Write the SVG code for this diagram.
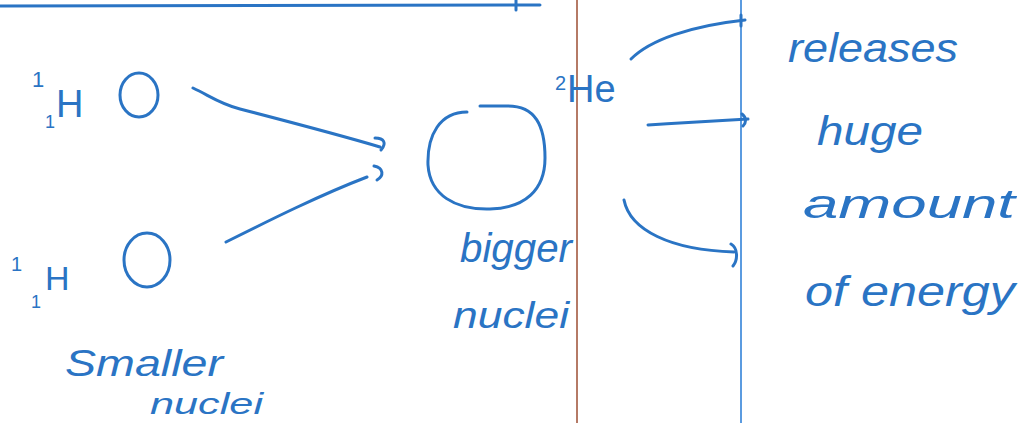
<svg xmlns="http://www.w3.org/2000/svg" width="1019" height="423" viewBox="0 0 1019 423">
<defs>
<style>
.ink{fill:none;stroke:#2a74c4;stroke-width:3;stroke-linecap:round;stroke-linejoin:round}
.txt{fill:#2a74c4;font-family:"Liberation Sans",Arial,sans-serif}
.hw{font-style:italic}
</style>
</defs>
<rect width="1019" height="423" fill="#ffffff"/>
<g id="margins">
<line x1="577" y1="0" x2="577" y2="423" stroke="#b57a66" stroke-width="2"/>
<line x1="741" y1="0" x2="741" y2="423" stroke="#5b9be0" stroke-width="2"/>
<path class="ink" d="M0 6 L540 5"/>
<path class="ink" d="M516 0 L516 10"/>
</g>
<g id="h1-top">
<ellipse class="ink" cx="139" cy="95" rx="19" ry="22"/>
<text class="txt" x="32" y="87" font-size="22">1</text>
<text class="txt" x="45" y="128" font-size="18">1</text>
<text class="txt" x="56" y="117" font-size="38">H</text>
</g>
<g id="h1-bottom">
<ellipse class="ink" cx="147" cy="260" rx="23" ry="27"/>
<text class="txt" x="11" y="271" font-size="20">1</text>
<text class="txt" x="31" y="308" font-size="18">1</text>
<text class="txt" x="45" y="290" font-size="34">H</text>
</g>
<g id="smaller-label">
<text class="txt hw" x="65" y="376" font-size="36" textLength="158" lengthAdjust="spacingAndGlyphs">Smaller</text>
<text class="txt hw" x="150" y="414" font-size="30" textLength="113" lengthAdjust="spacingAndGlyphs">nuclei</text>
</g>
<g id="he-nucleus">
<path class="ink" d="M467 112 C440 112 427 135 428 165 C430 195 455 210 490 209 C525 208 545 190 545 158 C545 125 535 106 508 106 L480 106"/>
<text class="txt" x="555" y="90" font-size="20">2</text>
<text class="txt" x="567" y="102" font-size="38">He</text>
</g>
<g id="bigger-label">
<text class="txt hw" x="460" y="262" font-size="40" textLength="112" lengthAdjust="spacingAndGlyphs">bigger</text>
<text class="txt hw" x="453" y="328" font-size="36" textLength="116" lengthAdjust="spacingAndGlyphs">nuclei</text>
</g>
<g id="energy-label">
<text class="txt hw" x="788" y="62" font-size="40" textLength="170" lengthAdjust="spacingAndGlyphs">releases</text>
<text class="txt hw" x="817" y="145" font-size="40" textLength="106" lengthAdjust="spacingAndGlyphs">huge</text>
<text class="txt hw" x="803" y="218" font-size="40" textLength="212" lengthAdjust="spacingAndGlyphs">amount</text>
<text class="txt hw" x="805" y="306" font-size="42" textLength="210" lengthAdjust="spacingAndGlyphs">of energy</text>
</g>
<g id="connectors">
<path class="ink" d="M193 88 C210 96 220 104 240 109 C290 122 340 135 380 147"/>
<path class="ink" d="M375 138 C384 138 387 143 381 150"/>
<path class="ink" d="M226 242 C270 220 320 195 367 177"/>
<path class="ink" d="M374 166 C384 168 384 176 377 180"/>
<path class="ink" d="M631 59 C650 40 690 26 745 20"/>
<path class="ink" d="M741 15 L741 26"/>
<path class="ink" d="M648 125 C680 123 710 121 748 119"/>
<path class="ink" d="M742 114 C747 118 746 123 743 126"/>
<path class="ink" d="M624 200 C630 230 670 250 734 252"/>
<path class="ink" d="M731 244 C738 248 738 260 733 266"/>
</g>
</svg>
